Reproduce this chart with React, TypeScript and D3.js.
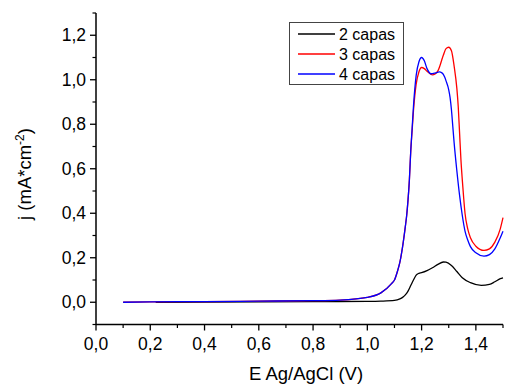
import React from "react";
import * as d3 from "d3";

const E2 = [0.22, 0.4, 0.6, 0.8, 1.0, 1.05, 1.1, 1.12, 1.13, 1.14, 1.15, 1.16, 1.17, 1.18, 1.19, 1.2, 1.22, 1.24, 1.26, 1.28, 1.29, 1.31, 1.33, 1.35, 1.38, 1.42, 1.45, 1.47, 1.49, 1.5];
const J2 = [0.0, 0.001, 0.002, 0.003, 0.004, 0.005, 0.008, 0.015, 0.022, 0.033, 0.05, 0.075, 0.1, 0.122, 0.13, 0.133, 0.142, 0.155, 0.17, 0.181, 0.18, 0.165, 0.138, 0.11, 0.088, 0.076, 0.08, 0.092, 0.106, 0.11];

const E3 = [0.1, 0.2, 0.4, 0.6, 0.8, 0.9, 1.0, 1.05, 1.09, 1.1, 1.11, 1.12, 1.13, 1.14, 1.145, 1.15, 1.155, 1.16, 1.165, 1.17, 1.18, 1.19, 1.2, 1.21, 1.22, 1.24, 1.26, 1.28, 1.29, 1.3, 1.31, 1.32, 1.33, 1.335, 1.34, 1.345, 1.35, 1.355, 1.36, 1.37, 1.38, 1.4, 1.43, 1.45, 1.47, 1.49, 1.5];
const J3 = [0.0, 0.002, 0.003, 0.005, 0.007, 0.01, 0.022, 0.042, 0.085, 0.1, 0.135, 0.18, 0.25, 0.34, 0.39, 0.46, 0.55, 0.68, 0.77, 0.86, 0.98, 1.035, 1.055, 1.05, 1.038, 1.022, 1.04, 1.11, 1.14, 1.146, 1.13, 1.06, 0.96, 0.88, 0.76, 0.64, 0.55, 0.47, 0.4, 0.33, 0.29, 0.252, 0.233, 0.24, 0.27, 0.33, 0.38];

const E4 = [0.1, 0.2, 0.4, 0.6, 0.8, 0.9, 1.0, 1.05, 1.09, 1.1, 1.11, 1.12, 1.13, 1.14, 1.145, 1.15, 1.155, 1.16, 1.165, 1.17, 1.18, 1.19, 1.2, 1.21, 1.22, 1.235, 1.25, 1.265, 1.275, 1.285, 1.29, 1.3, 1.305, 1.31, 1.315, 1.32, 1.33, 1.34, 1.35, 1.36, 1.37, 1.38, 1.4, 1.43, 1.45, 1.47, 1.49, 1.5];
const J4 = [0.0, 0.002, 0.003, 0.005, 0.007, 0.01, 0.022, 0.042, 0.085, 0.1, 0.135, 0.18, 0.25, 0.34, 0.39, 0.46, 0.55, 0.68, 0.78, 0.88, 1.02, 1.08, 1.1, 1.085, 1.05, 1.027, 1.03, 1.035, 1.031, 1.012, 0.995, 0.955, 0.92, 0.865, 0.79, 0.715, 0.59, 0.48, 0.39, 0.32, 0.28, 0.25, 0.222, 0.207, 0.214, 0.24, 0.29, 0.319];

const seriesNames = ["2 capas", "3 capas", "4 capas"];
const seriesColors = ["#000000", "#ff0000", "#0000ff"];
const xTicks = [0.0, 0.2, 0.4, 0.6, 0.8, 1.0, 1.2, 1.4];
const yTicks = [0.0, 0.2, 0.4, 0.6, 0.8, 1.0, 1.2];

const W = 511, H = 385;
const x = d3.scaleLinear().domain([0, 1.5]).range([96, 503]);
const y = d3.scaleLinear().domain([-0.1, 1.3]).range([324.5, 13]);
const fmt = (v: number) => v.toFixed(1).replace(".", ",");

export default function App() {
  const series = [
    { e: E2, j: J2 },
    { e: E3, j: J3 },
    { e: E4, j: J4 },
  ];
  const line = d3
    .line<[number, number]>()
    .x((d) => x(d[0]))
    .y((d) => y(d[1]))
    .curve(d3.curveMonotoneX);
  const xMinor = d3.range(1, 16).map((i) => i / 10).filter((v) => Math.round(v * 10) % 2 === 1);
  const yMinor = [-0.1, 0.1, 0.3, 0.5, 0.7, 0.9, 1.1, 1.3];
  const font = "Arial, 'Liberation Sans', sans-serif";
  return (
    <svg width={W} height={H} style={{ position: "absolute", left: 0, top: 0 }} fontFamily={font}>
      <rect width={W} height={H} fill="#fff" />
      {series.map((s, i) => (
        <path
          key={i}
          d={line(s.e.map((e, k) => [e, s.j[k]] as [number, number])) || ""}
          fill="none"
          stroke={seriesColors[i]}
          strokeWidth={1.3}
        />
      ))}
      {/* axes */}
      <line x1={x(0)} x2={x(0)} y1={y(1.3)} y2={y(-0.1)} stroke="#000" strokeWidth={1.5} />
      <line x1={x(0)} x2={x(1.5)} y1={y(-0.1)} y2={y(-0.1)} stroke="#000" strokeWidth={1.5} />
      {xTicks.map((t) => (
        <g key={"xt" + t}>
          <line x1={x(t)} x2={x(t)} y1={y(-0.1)} y2={y(-0.1) + 6} stroke="#000" strokeWidth={1.3} />
          <text x={x(t)} y={y(-0.1) + 25} textAnchor="middle" fontSize={17.5}>
            {fmt(t)}
          </text>
        </g>
      ))}
      {xMinor.map((t) => (
        <line key={"xm" + t} x1={x(t)} x2={x(t)} y1={y(-0.1)} y2={y(-0.1) + 3.5} stroke="#000" strokeWidth={1.2} />
      ))}
      {yTicks.map((t) => (
        <g key={"yt" + t}>
          <line x1={x(0) - 6} x2={x(0)} y1={y(t)} y2={y(t)} stroke="#000" strokeWidth={1.3} />
          <text x={x(0) - 10} y={y(t) + 6} textAnchor="end" fontSize={17.5}>
            {fmt(t)}
          </text>
        </g>
      ))}
      {yMinor.map((t) => (
        <line key={"ym" + t} x1={x(0) - 3.5} x2={x(0)} y1={y(t)} y2={y(t)} stroke="#000" strokeWidth={1.2} />
      ))}
      {/* axis titles */}
      <text x={306} y={380} textAnchor="middle" fontSize={18.5}>
        E Ag/AgCl (V)
      </text>
      <text transform="translate(31,174) rotate(-90)" textAnchor="middle" fontSize={18.5}>
        j (mA*cm
        <tspan dy={-7} fontSize={12}>-2</tspan>
        <tspan dy={7}>)</tspan>
      </text>
      {/* legend */}
      <rect x={289.5} y={22.5} width={114} height={62} fill="#fff" stroke="#444" strokeWidth={1} />
      {seriesNames.map((n, i) => (
        <g key={n}>
          <line x1={298} x2={335} y1={34 + i * 20} y2={34 + i * 20} stroke={seriesColors[i]} strokeWidth={1.3} />
          <text x={339} y={34 + i * 20 + 6} fontSize={16}>
            {n}
          </text>
        </g>
      ))}
    </svg>
  );
}
